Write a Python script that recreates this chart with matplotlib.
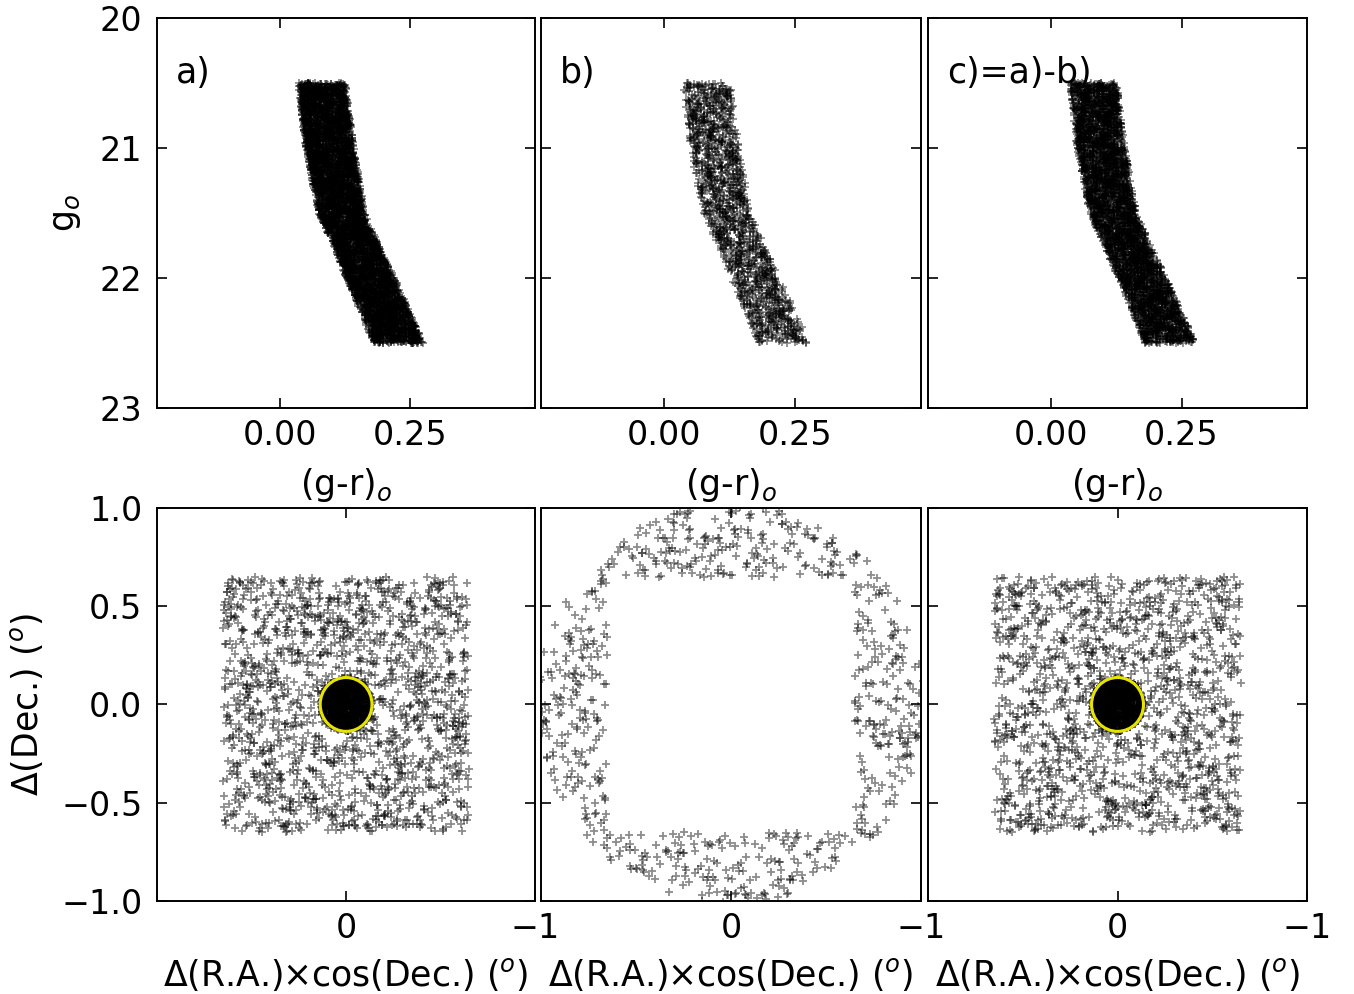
import numpy as np
import matplotlib.pyplot as plt

# CMD selection band, edges read off panel a)  (g_o, blue edge, red edge)
band_g = [20.5, 21.0, 21.5, 21.75, 22.0, 22.25, 22.5]
band_blue = [0.036, 0.050, 0.075, 0.102, 0.128, 0.155, 0.180]
band_red = [0.126, 0.142, 0.163, 0.190, 0.220, 0.248, 0.276]
cmd_counts = [5000, 1300, 3500]          # stars in a), b), c) (estimated)

# sky regions in degrees
box_half = 0.65          # cluster field (a, c)
ring_outer = 1.02        # comparison field outer edge (b)
core_radius = 0.137      # yellow circle
field_counts = [1550, 0, 1450]
ring_counts = [0, 1900, 0]   # drawn over the bounding box, kept in the ring
core_counts = [1000, 0, 1000]

panel_tags = ['a)', 'b)', 'c)=a)-b)']

# Individual stars can't be read from the picture, so the clouds are filled
# deterministically (Weyl sequences) inside the regions read above.
ALPHA = 0.7548776662466927
BETA = 0.4142135623730951


def qseq(n, start=1):
    i = np.arange(start, start + n, dtype=float)
    return (0.5 + i * ALPHA) % 1, (0.5 + i * i * BETA) % 1


plt.rcParams['font.size'] = 24
plt.rcParams['axes.labelsize'] = 25
plt.rcParams['axes.linewidth'] = 1.4

fig = plt.figure(figsize=(13.54, 9.94), dpi=100)
lefts = [0.116, 0.3996, 0.6854]
widths = [0.2792, 0.2806, 0.2799]

pt = dict(ls='none', marker='+', color='k', ms=5.5, mew=1.3, alpha=0.45)


def style(ax):
    ax.tick_params(direction='in', top=True, right=True, length=7, width=1.2)
    ax.tick_params(axis='x', pad=8)
    ax.tick_params(axis='y', pad=10.5)


for k in range(3):
    # ---- top row: colour-magnitude diagram
    ax = fig.add_axes([lefts[k], 0.5895, widths[k], 0.3924])
    u, v = qseq(cmd_counts[k], start=1 + 7919 * k)
    g = band_g[0] + (band_g[-1] - band_g[0]) * u
    lo = np.interp(g, band_g, band_blue)
    hi = np.interp(g, band_g, band_red)
    col = lo + v * (hi - lo)
    ax.plot(col, g, **pt)
    ax.set_xlim(-0.235, 0.49)
    ax.set_ylim(23, 20)
    ax.set_xticks([0, 0.25])
    ax.set_yticks([20, 21, 22, 23])
    ax.set_xlabel('(g-r)$_o$', labelpad=10)
    if k == 0:
        ax.set_ylabel('g$_o$', labelpad=12)
    else:
        ax.set_yticklabels([])
    ax.text(0.05, 0.86, panel_tags[k], transform=ax.transAxes,
            va='center', ha='left', fontsize=25)
    style(ax)

    # ---- bottom row: sky positions
    ax = fig.add_axes([lefts[k], 0.0936, widths[k], 0.3954])
    if field_counts[k]:
        u, v = qseq(field_counts[k], start=3 + 5003 * k)
        ax.plot(-box_half + 2 * box_half * u, -box_half + 2 * box_half * v, **pt)
    if ring_counts[k]:
        u, v = qseq(ring_counts[k], start=11)
        x = -ring_outer + 2 * ring_outer * u
        y = -ring_outer + 2 * ring_outer * v
        keep = (np.hypot(x, y) < ring_outer) & ((np.abs(x) > box_half) | (np.abs(y) > box_half))
        ax.plot(x[keep], y[keep], **pt)
    if core_counts[k]:
        u, v = qseq(core_counts[k], start=101 + 13 * k)
        r = core_radius * np.sqrt(u)
        ax.plot(r * np.cos(2 * np.pi * v), r * np.sin(2 * np.pi * v), **pt)
        ax.add_patch(plt.Circle((0, 0), core_radius, fill=False,
                                edgecolor='#e8e400', lw=2.2, zorder=5))
    ax.set_xlim(1, -1)
    ax.set_ylim(-1, 1)
    ax.set_xticks([0, -1])
    ax.set_yticks([-1, -0.5, 0, 0.5, 1])
    ax.set_xlabel('Δ(R.A.)×cos(Dec.) ($^o$)', labelpad=8)
    if k == 0:
        ax.set_ylabel('Δ(Dec.) ($^o$)', labelpad=12)
    else:
        ax.set_yticklabels([])
    style(ax)

fig.savefig('out.png', dpi=100)
